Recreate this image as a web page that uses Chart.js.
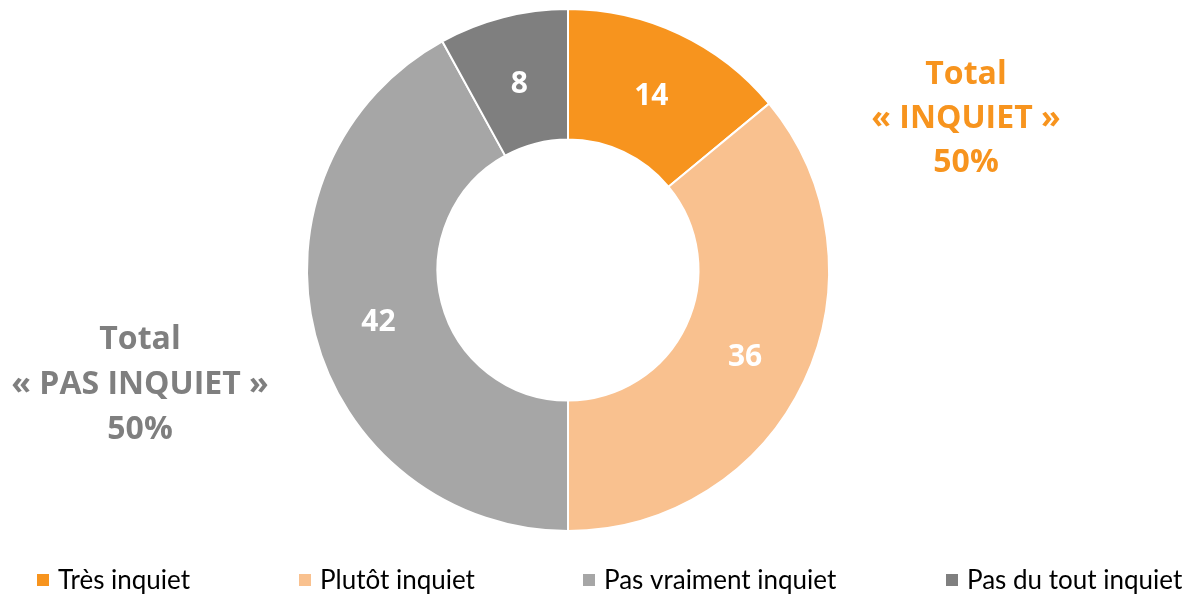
<!DOCTYPE html>
<html>
<head>
<meta charset="utf-8">
<script src="https://cdn.jsdelivr.net/npm/chart.js@4.4.0/dist/chart.umd.min.js"></script>
<style>
  html, body { margin: 0; padding: 0; background: #fff; }
  #wrap { width: 1186px; height: 594px; }
</style>
</head>
<body>
<div id="wrap"><canvas id="worryChart" width="1186" height="594"></canvas></div>
<script>
// data
const categories = ['Très inquiet', 'Plutôt inquiet', 'Pas vraiment inquiet', 'Pas du tout inquiet'];
const shares = [14, 36, 42, 8];
const sliceColours = ['#F7941E', '#F9C18F', '#A6A6A6', '#7F7F7F'];

const worriedLines = ['Total', '« INQUIET »', '50%'];
const calmLines = ['Total', '« PAS INQUIET »', '50%'];

// legend box x positions, like the Excel layout
const legendX = [37, 299, 583, 946];

const BOLD_FONT = '"Open Sans", Lato, sans-serif';
const FONT = 'Lato, "Open Sans", sans-serif';

const sliceLabels = {
    id: 'sliceLabels',
    afterDatasetsDraw(chart) {
        const ctx = chart.ctx;
        const meta = chart.getDatasetMeta(0);
        ctx.save();
        ctx.font = 'bold 30px ' + BOLD_FONT;
        ctx.fillStyle = '#fff';
        ctx.textAlign = 'center';
        ctx.textBaseline = 'middle';
        meta.data.forEach((arc, i) => {
            const p = arc.tooltipPosition();
            ctx.fillText(String(shares[i]), p.x, p.y + 4);
        });
        ctx.restore();
    }
};

const sideNotes = {
    id: 'sideNotes',
    afterDraw(chart) {
        const ctx = chart.ctx;
        ctx.save();
        ctx.textAlign = 'center';
        ctx.textBaseline = 'middle';
        ctx.font = 'bold 32px ' + BOLD_FONT;
        ctx.fillStyle = '#F7941E';
        worriedLines.forEach((t, i) => ctx.fillText(t, 966, 75 + i * 44));
        ctx.fillStyle = '#7F7F7F';
        calmLines.forEach((t, i) => ctx.fillText(t, 140, 340 + i * 45));

        // legend
        ctx.font = '26px ' + FONT;
        ctx.textAlign = 'left';
        categories.forEach((c, i) => {
            ctx.fillStyle = sliceColours[i];
            ctx.fillRect(legendX[i], 574, 12, 12);
            ctx.fillStyle = '#000';
            ctx.fillText(c, legendX[i] + 21, 581);
        });
        ctx.restore();
    }
};

new Chart(document.getElementById('worryChart'), {
    type: 'doughnut',
    data: {
        labels: categories,
        datasets: [{
            data: shares,
            backgroundColor: sliceColours,
            borderColor: '#fff',
            borderWidth: 2,
            hoverOffset: 0
        }]
    },
    options: {
        responsive: false,
        animation: false,
        cutout: '50%',
        layout: { padding: { top: 8, bottom: 62, left: 306, right: 356 } },
        plugins: {
            legend: { display: false },
            tooltip: { enabled: false }
        }
    },
    plugins: [sliceLabels, sideNotes]
});
</script>
</body>
</html>
